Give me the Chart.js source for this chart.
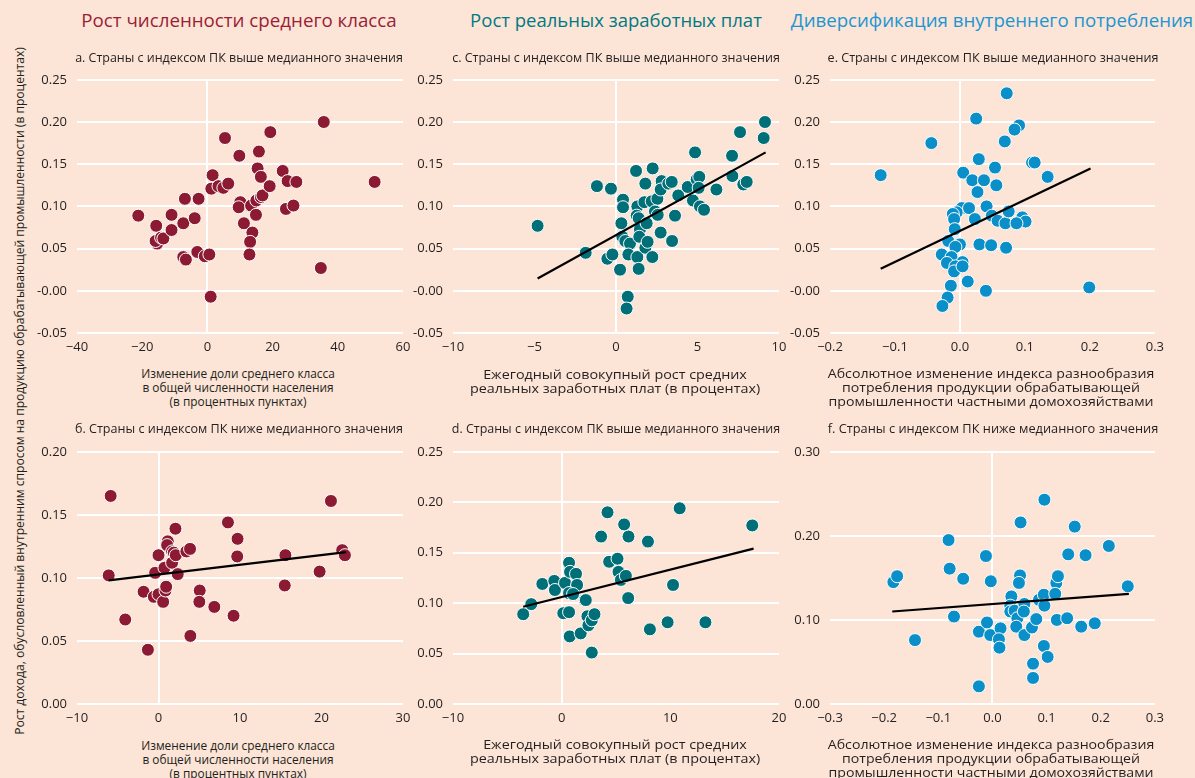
<!DOCTYPE html>
<html lang="ru">
<head>
<meta charset="utf-8">
<script src="https://cdn.jsdelivr.net/npm/chart.js@4.4.1/dist/chart.umd.min.js"></script>
<style>
    body { margin: 0; width: 1195px; height: 778px; overflow: hidden; position: relative;
           background: #fce4d6; font-family: 'Open Sans', sans-serif; color: #231f20; }
    canvas { position: absolute; }
    .txt { position: absolute; white-space: nowrap; text-align: center; }
</style>
</head>
<body>
<script>
// --- Datos ---
const aPoints = [[-21.2,0.089],[-15.7,0.077],[-15.4,0.056],[-15.9,0.059],[-14.2,0.063],[-13.5,0.062],
    [-11.0,0.090],[-11.0,0.072],[-7.4,0.080],[-6.9,0.109],[-7.4,0.040],[-6.6,0.037],[-3.9,0.086],
    [-2.7,0.109],[-3.1,0.046],[-0.8,0.041],[0.6,0.043],[1.0,-0.007],[1.6,0.137],[1.2,0.121],
    [3.4,0.124],[4.9,0.122],[6.4,0.127],[5.4,0.181],[9.8,0.160],[10.1,0.105],[9.6,0.099],
    [11.2,0.080],[13.8,0.069],[13.1,0.058],[12.9,0.043],[13.4,0.101],[14.9,0.090],[15.0,0.107],
    [16.4,0.111],[16.9,0.113],[15.4,0.145],[15.8,0.165],[16.4,0.135],[19.1,0.124],[19.3,0.188],
    [23.1,0.142],[24.6,0.130],[27.3,0.129],[24.1,0.097],[26.4,0.101],[35.7,0.200],[34.8,0.027],
    [51.3,0.129]];

const cPoints = [[-4.81,0.077],[-1.86,0.045],[-1.17,0.124],[-0.31,0.121],[-0.53,0.038],[-0.22,0.043],
    [0.25,0.025],[0.33,0.080],[0.43,0.108],[0.43,0.099],[0.39,0.064],[0.57,0.059],[0.86,0.056],
    [0.76,0.043],[0.72,-0.007],[0.65,-0.021],[1.23,0.142],[1.31,0.100],[1.27,0.089],[1.39,0.086],
    [1.47,0.073],[1.43,0.064],[1.31,0.040],[1.39,0.026],[1.80,0.127],[1.74,0.105],[1.88,0.080],
    [1.80,0.051],[1.94,0.058],[2.23,0.040],[2.25,0.145],[2.19,0.106],[2.54,0.109],[2.39,0.094],
    [2.56,0.090],[2.74,0.069],[2.80,0.130],[2.74,0.120],[3.21,0.127],[3.42,0.129],[3.44,0.059],
    [3.62,0.089],[3.82,0.113],[4.40,0.123],[4.72,0.107],[4.85,0.164],[4.95,0.132],[5.11,0.135],
    [5.07,0.122],[5.15,0.100],[5.40,0.096],[6.16,0.120],[7.12,0.160],[7.14,0.136],[7.61,0.188],
    [7.81,0.126],[8.02,0.129],[9.14,0.200],[9.06,0.181]];

const ePoints = [[-0.122,0.137],[-0.044,0.175],[0.025,0.204],[0.072,0.234],[0.091,0.196],[0.084,0.191],
    [0.069,0.177],[0.029,0.156],[0.054,0.146],[0.111,0.152],[0.115,0.152],[0.135,0.135],[0.005,0.140],
    [0.019,0.131],[0.037,0.131],[0.056,0.125],[0.027,0.117],[0.041,0.100],[0.003,0.098],[0.014,0.098],
    [-0.005,0.093],[-0.011,0.091],[-0.009,0.085],[0.023,0.085],[0.049,0.089],[0.058,0.083],[0.070,0.080],
    [0.075,0.094],[0.096,0.087],[0.101,0.082],[0.087,0.080],[-0.008,0.073],[-0.018,0.059],[0.000,0.055],
    [-0.007,0.052],[0.030,0.055],[0.048,0.054],[0.071,0.051],[-0.028,0.043],[-0.013,0.040],[-0.020,0.033],
    [0.004,0.034],[-0.007,0.029],[-0.009,0.023],[0.004,0.029],[0.012,0.011],[-0.014,0.006],[-0.019,-0.008],
    [-0.027,-0.018],[0.040,0.000],[0.199,0.004]];

const bPoints = [[-5.87,0.165],[-6.11,0.102],[-4.08,0.067],[-1.30,0.043],[-1.83,0.089],[-0.57,0.085],
    [0.0,0.087],[-0.41,0.104],[0.0,0.118],[0.57,0.081],[0.86,0.090],[0.94,0.093],[0.73,0.108],
    [1.14,0.129],[1.06,0.126],[1.67,0.112],[1.67,0.121],[1.88,0.120],[2.12,0.118],[2.08,0.139],
    [2.36,0.103],[3.42,0.121],[3.87,0.123],[3.91,0.054],[5.06,0.090],[5.01,0.081],[6.85,0.077],
    [8.52,0.144],[9.21,0.070],[9.70,0.131],[9.66,0.117],[15.57,0.118],[15.49,0.094],[19.77,0.105],
    [21.16,0.161],[22.54,0.122],[22.87,0.118]];

const dPoints = [[-3.54,0.089],[-2.80,0.099],[-1.78,0.119],[-0.68,0.122],[-0.62,0.113],[0.31,0.120],
    [0.15,0.090],[0.68,0.091],[0.74,0.067],[0.68,0.140],[0.77,0.131],[1.32,0.129],[1.42,0.118],
    [0.68,0.110],[1.05,0.109],[2.12,0.103],[2.22,0.103],[1.75,0.070],[2.37,0.087],[2.46,0.078],
    [2.77,0.083],[3.02,0.089],[2.77,0.051],[3.63,0.166],[4.22,0.190],[4.37,0.141],[5.14,0.144],
    [5.23,0.131],[5.45,0.123],[5.91,0.127],[5.75,0.178],[6.15,0.166],[6.12,0.105],[7.94,0.161],
    [8.12,0.074],[9.75,0.081],[10.25,0.118],[10.86,0.194],[13.23,0.081],[17.54,0.177]];

const fPoints = [[-0.183,0.145],[-0.176,0.152],[-0.143,0.076],[-0.081,0.195],[-0.079,0.161],[-0.071,0.104],
    [-0.054,0.149],[-0.012,0.176],[-0.003,0.146],[-0.025,0.086],[-0.010,0.097],[-0.004,0.082],[0.015,0.090],
    [0.012,0.077],[0.013,0.067],[-0.025,0.021],[0.035,0.128],[0.033,0.117],[0.033,0.110],[0.041,0.111],
    [0.046,0.102],[0.044,0.092],[0.051,0.153],[0.049,0.144],[0.052,0.216],[0.059,0.119],[0.058,0.110],
    [0.059,0.082],[0.073,0.091],[0.081,0.101],[0.075,0.048],[0.075,0.031],[0.086,0.124],[0.095,0.130],
    [0.096,0.117],[0.095,0.069],[0.096,0.243],[0.102,0.056],[0.118,0.144],[0.121,0.152],[0.116,0.131],
    [0.119,0.100],[0.138,0.102],[0.140,0.178],[0.152,0.211],[0.164,0.092],[0.172,0.177],[0.189,0.096],
    [0.215,0.188],[0.250,0.140]];

// Líneas de regresión (extremos)
const cLine = [[-4.81,0.0145],[9.18,0.164]];
const eLine = [[-0.122,0.026],[0.201,0.145]];
const bLine = [[-6.11,0.098],[23.03,0.1204]];
const dLine = [[-3.54,0.0964],[17.66,0.154]];
const fLine = [[-0.185,0.110],[0.252,0.131]];

// Etiquetas de ejes
const aXTicks = ['−40','−20','0','20','40','60'];
const cXTicks = ['−10','−5','0','5','10'];
const eXTicks = ['−0.2','−0.1','0.0','0.1','0.2','0.3'];
const bXTicks = ['−10','0','10','20','30'];
const dXTicks = ['−10','0','10','20'];
const fXTicks = ['−0.3','−0.2','−0.1','0.0','0.1','0.2','0.3'];
const topYTicks = ['-0.05','-0.00','0.05','0.10','0.15','0.20','0.25'];
const bYTicks = ['0.00','0.05','0.10','0.15','0.20'];
const dYTicks = ['0.00','0.05','0.10','0.15','0.20','0.25'];
const fYTicks = ['0.00','0.10','0.20','0.30'];

// --- Estilos ---
const RED = '#8c1a32';
const TEAL = '#006f78';
const BLUE = '#0b8fc9';
const TEXT = '#231f20';

function toNum(s) {
    return parseFloat(s.replace('−', '-'));
}

function makePanel(box, points, line, color, xTicks, yTicks) {
    const yw = 45, pt = 8, pr = 14, xh = 30;
    const cv = document.createElement('canvas');
    cv.width = box.r - box.l + yw + pr;
    cv.height = box.b - box.t + pt + xh;
    cv.style.left = (box.l - yw) + 'px';
    cv.style.top = (box.t - pt) + 'px';
    document.body.appendChild(cv);

    const xv = xTicks.map(toNum);
    const yv = yTicks.map(toNum);
    const font = { family: "'Open Sans', sans-serif", size: 13 };

    const datasets = [];
    if (line) {
        datasets.push({
            type: 'line',
            data: line.map(p => ({ x: p[0], y: p[1] })),
            borderColor: '#000',
            borderWidth: 2.2,
            pointRadius: 0,
            fill: false,
            clip: false
        });
    }
    datasets.push({
        data: points.map(p => ({ x: p[0], y: p[1] })),
        backgroundColor: color,
        borderColor: '#fff',
        borderWidth: 1,
        pointRadius: 6.5,
        clip: false
    });

    new Chart(cv, {
        type: 'scatter',
        data: { datasets: datasets },
        options: {
            responsive: false,
            animation: false,
            events: [],
            layout: { padding: { top: pt, right: pr, left: 0, bottom: 0 } },
            plugins: { legend: { display: false }, tooltip: { enabled: false } },
            scales: {
                x: {
                    type: 'linear',
                    min: xv[0],
                    max: xv[xv.length - 1],
                    afterBuildTicks: s => { s.ticks = xv.map(v => ({ value: v })); },
                    afterFit: s => { s.height = xh; },
                    grid: {
                        color: c => (c.tick && c.tick.value === 0) ? '#fff' : 'rgba(0,0,0,0)',
                        lineWidth: 2,
                        drawTicks: false
                    },
                    border: { display: false },
                    ticks: { callback: (v, i) => xTicks[i], padding: 6, maxRotation: 0, autoSkip: false, font: font, color: TEXT }
                },
                y: {
                    type: 'linear',
                    min: yv[0],
                    max: yv[yv.length - 1],
                    afterBuildTicks: s => { s.ticks = yv.map(v => ({ value: v })); },
                    afterFit: s => { s.width = yw; },
                    grid: { color: '#fff', lineWidth: 2, drawTicks: false },
                    border: { display: false },
                    ticks: { callback: (v, i) => yTicks[i], padding: 10, autoSkip: false, font: font, color: TEXT }
                }
            }
        }
    });
}

// Texto con ancho ajustado (fuente estrecha simulada)
function placeText(t) {
    const el = document.createElement('div');
    el.className = 'txt';
    el.innerHTML = t.lines.join('<br>');
    el.style.fontSize = t.size + 'px';
    el.style.lineHeight = (t.lh || Math.round(t.size * 1.2)) + 'px';
    el.style.color = t.color || TEXT;
    el.style.left = t.cx + 'px';
    el.style.top = t.cy + 'px';
    document.body.appendChild(el);
    const k = t.w / el.offsetWidth;
    el.style.transform = 'translate(-50%,-50%) ' + (t.rot ? 'rotate(-90deg) ' : '') + 'scaleX(' + k + ')';
}

// --- Paneles ---
makePanel({ l: 77, r: 403, t: 70, b: 333 }, aPoints, null, RED, aXTicks, topYTicks);
makePanel({ l: 453, r: 779, t: 70, b: 333 }, cPoints, cLine, TEAL, cXTicks, topYTicks);
makePanel({ l: 830, r: 1156, t: 70, b: 333 }, ePoints, eLine, BLUE, eXTicks, topYTicks);
makePanel({ l: 77, r: 403, t: 442, b: 704 }, bPoints, bLine, RED, bXTicks, bYTicks);
makePanel({ l: 453, r: 779, t: 442, b: 704 }, dPoints, dLine, TEAL, dXTicks, dYTicks);
makePanel({ l: 830, r: 1156, t: 442, b: 704 }, fPoints, fLine, BLUE, fXTicks, fYTicks);

// --- Textos ---
const xLabelA = ['Изменение доли среднего класса', 'в общей численности населения', '(в процентных пунктах)'];
const xLabelC = ['Ежегодный совокупный рост средних', 'реальных заработных плат (в процентах)'];
const xLabelE = ['Абсолютное изменение индекса разнообразия', 'потребления продукции обрабатывающей', 'промышленности частными домохозяйствами'];

[
    { lines: ['Рост численности среднего класса'], cx: 239, cy: 20, w: 315, size: 18, color: '#9b1d36' },
    { lines: ['Рост реальных заработных плат'], cx: 616, cy: 20, w: 292, size: 18, color: '#007a82' },
    { lines: ['Диверсификация внутреннего потребления'], cx: 992, cy: 20, w: 402, size: 18, color: '#1b96d2' },
    { lines: ['a. Страны с индексом ПК выше медианного значения'], cx: 239, cy: 57, w: 328, size: 13.5 },
    { lines: ['c. Страны с индексом ПК выше медианного значения'], cx: 616, cy: 57, w: 328, size: 13.5 },
    { lines: ['e. Страны с индексом ПК выше медианного значения'], cx: 993, cy: 57, w: 331, size: 13.5 },
    { lines: ['б. Страны с индексом ПК ниже медианного значения'], cx: 239, cy: 428, w: 328, size: 13.5 },
    { lines: ['d. Страны с индексом ПК выше медианного значения'], cx: 616, cy: 428, w: 328, size: 13.5 },
    { lines: ['f. Страны с индексом ПК ниже медианного значения'], cx: 993, cy: 428, w: 331, size: 13.5 },
    { lines: xLabelA, cx: 238, cy: 387, w: 194, size: 13.5, lh: 14 },
    { lines: xLabelC, cx: 615, cy: 381, w: 290, size: 13.5, lh: 14 },
    { lines: xLabelE, cx: 991, cy: 387, w: 326, size: 13.5, lh: 14 },
    { lines: xLabelA, cx: 238, cy: 759, w: 194, size: 13.5, lh: 14 },
    { lines: xLabelC, cx: 615, cy: 751, w: 290, size: 13.5, lh: 14 },
    { lines: xLabelE, cx: 991, cy: 758, w: 326, size: 13.5, lh: 14 },
    { lines: ['Рост дохода, обусловленный внутренним спросом на продукцию обрабатывающей промышленности (в процентах)'],
      cx: 19, cy: 391, w: 688, size: 13, rot: true }
].forEach(placeText);
</script>
</body>
</html>
